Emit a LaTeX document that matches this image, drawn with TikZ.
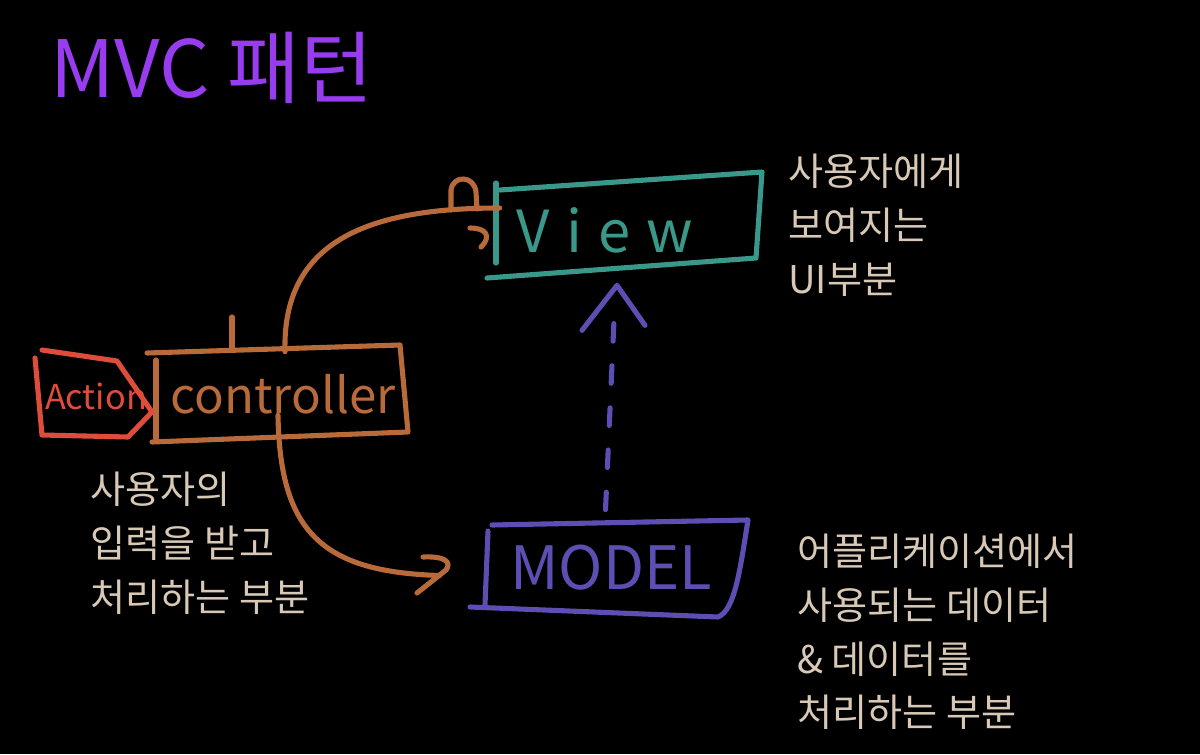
\documentclass[tikz,border=0pt]{standalone}
\usepackage{fontspec}
\setmainfont{Noto Sans CJK KR}
\usetikzlibrary{arrows.meta, positioning, calc}
\definecolor{titlepurple}{RGB}{152,60,240}
\definecolor{viewteal}{RGB}{58,152,138}
\definecolor{ctrlbrown}{RGB}{184,106,58}
\definecolor{actionred}{RGB}{222,76,60}
\definecolor{modelindigo}{RGB}{92,78,178}
\definecolor{notebeige}{RGB}{216,200,182}

\begin{document}
\begin{tikzpicture}[x=0.02cm, y=-0.02cm,
    pen/.style={line width=2.9pt, line cap=round, line join=round},
    slot/.style={draw=none, inner sep=0pt},
    note/.style={anchor=north west, inner sep=0pt, align=left, color=notebeige,
        font=\fontsize{21.7}{30.5}\selectfont}]
    % Canvas
    \fill[black] (0,0) rectangle (1200,754);
    \useasboundingbox (0,0) rectangle (1200,754);

    % Title
    \node[font=\fontsize{45}{45}\selectfont, color=titlepurple] (title) at (212,68) {MVC 패턴};

    % Box slots
    \node[slot, minimum width=5.32cm, minimum height=2.12cm] (view) at (629,225) {};
    \node[slot, minimum width=5.12cm, minimum height=1.94cm] (ctrl) at (280,393.5) {};
    \node[slot, minimum width=5.26cm, minimum height=1.94cm] (model) at (616.5,568.5) {};

    % View box
    \draw[pen, viewteal] (496,263) -- (496,183);
    \draw[pen, viewteal] (500,190) -- (762,172) -- (756,258) -- (487,278);
    \node[font=\fontsize{33}{33}\selectfont\addfontfeature{LetterSpace=28}, color=viewteal] (viewtext) at (605,230) {View};

    % Controller box
    \draw[pen, ctrlbrown] (147,353) -- (400,345) -- (408,432) -- (152,442);
    \draw[pen, ctrlbrown] (156,360) -- (156,438);
    \draw[pen, ctrlbrown] (232,348) -- (232,317);
    \node[font=\fontsize{28}{28}\selectfont, color=ctrlbrown] (ctrltext) at (283,394) {controller};

    % Action tab
    \draw[pen, actionred] (35,358) -- (42,435) -- (128,437) -- (152,412) -- (117,361) -- (42,350);
    \node[font=\fontsize{19.5}{19.5}\selectfont, color=actionred] (action) at (96,396) {Action};

    % Model box
    \draw[pen, modelindigo] (492,525) -- (748,520) .. controls (740,570) and (735,610) .. (718,617) -- (470,607);
    \draw[pen, modelindigo] (488,531) -- (485,605);
    \node[font=\fontsize{34}{34}\selectfont, color=modelindigo] (modeltext) at (611,568) {MODEL};

    % Controller -> View
    \draw[pen, ctrlbrown] ($(ctrl.north)+(5,7)$) .. controls (282,240) and (370,208) .. ($(view.west)+(4,-17)$);
    \draw[pen, ctrlbrown] (451,210) -- (451,190) .. controls (453,175) and (474,175) .. (476,192) -- (477,209);
    \draw[pen, ctrlbrown] (470,228) .. controls (486,228) and (492,236) .. (481,247);

    % Controller -> Model
    \draw[pen, ctrlbrown] ($(ctrl.south)+(-2,-27)$) .. controls (280,530) and (320,572) .. ($(model.west)+(-45,7)$);
    \draw[pen, ctrlbrown] (423,557) .. controls (445,556) and (452,562) .. (446,570) -- (417,593);

    % Model -> View (dashed)
    \coordinate (viewtip) at ($(view.south)+(-12,7)$);
    \draw[pen, modelindigo, dash pattern=on 10pt off 14pt] ($(model.north)+(-11,-10)$) -- ($(viewtip)+(-3,35)$);
    \draw[pen, modelindigo] ($(viewtip)+(-35,45)$) -- (viewtip) -- ($(viewtip)+(28,40)$);

    % Notes
    \node[note] (viewnote) at (788,154) {사용자에게\\보여지는\\UI부분};
    \node[note] (ctrlnote) at (90,472) {사용자의\\입력을 받고\\처리하는 부분};
    \node[note] (modelnote) at (797,534) {어플리케이션에서\\사용되는 데이터\\\& 데이터를\\처리하는 부분};
\end{tikzpicture}
\end{document}
